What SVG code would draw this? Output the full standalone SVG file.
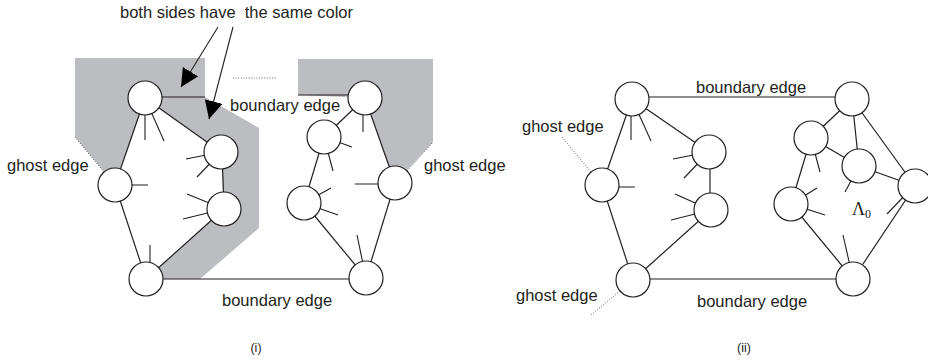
<svg xmlns="http://www.w3.org/2000/svg" width="928" height="360" viewBox="0 0 928 360">
<defs>
<style>
.bg{fill:#ffffff}
.shade{fill:#bcbdc0;stroke:none}
.e{stroke:#231f20;stroke-width:1.2;fill:none}
.s{stroke:#231f20;stroke-width:1.1;fill:none}
.g{stroke:#555;stroke-width:0.9;stroke-dasharray:1 1.6;fill:none}
.n circle{fill:#ffffff;stroke:#231f20;stroke-width:1.2}
.t{font-family:"Liberation Sans",Arial,sans-serif;font-size:16.5px;fill:#231f20}
.cap{font-family:"Liberation Sans",Arial,sans-serif;font-size:12.5px;fill:#231f20;text-anchor:middle}
.lam{font-family:"Liberation Serif","Times New Roman",serif;fill:#231f20}
.arr{stroke:#231f20;stroke-width:1.1;fill:none;marker-end:url(#ah)}
</style>
<marker id="ah" viewBox="0 0 18 18" refX="18" refY="9" markerWidth="18" markerHeight="18" markerUnits="userSpaceOnUse" orient="auto">
<path d="M0,0 L18,9 L0,18 Z" fill="#000"/>
</marker>
</defs>
<rect class="bg" x="0" y="0" width="928" height="360"/>

<g id="shading">
<polygon class="shade" points="75,58 205,58 205,97 259,128 259,228 200,279 146,279 224,209 221,152 145,98 115,185 75,137"/>
<polygon class="shade" points="298,59 433,59 433,142 395,183 365,98 298,95"/>
</g>

<g id="connectors">
<g id="ghost-edges">
<line class="g" x1="104" y1="172" x2="75" y2="137"/>
<line class="g" x1="407" y1="171" x2="433" y2="142"/>
<line class="g" x1="233" y1="78" x2="277" y2="78"/>
<line class="g" x1="591" y1="172" x2="562" y2="137"/>
<line class="g" x1="620" y1="291" x2="591" y2="315"/>
</g>
<g id="edges-i">
<line class="e" x1="145" y1="97" x2="205" y2="97"/>
<line class="e" x1="298" y1="95" x2="365" y2="95"/>
<line class="e" x1="145" y1="98" x2="115" y2="185"/>
<line class="e" x1="115" y1="185" x2="146" y2="279"/>
<line class="e" x1="146" y1="279" x2="224" y2="209"/>
<line class="e" x1="224" y1="209" x2="222" y2="152"/>
<line class="e" x1="145" y1="98" x2="221" y2="152"/>
<line class="e" x1="146" y1="279" x2="366" y2="279"/>
<line class="e" x1="365" y1="98" x2="324" y2="137"/>
<line class="e" x1="324" y1="137" x2="304" y2="203"/>
<line class="e" x1="304" y1="203" x2="366" y2="278"/>
<line class="e" x1="365" y1="98" x2="395" y2="183"/>
<line class="e" x1="395" y1="183" x2="366" y2="278"/>
</g>
<g id="stubs-i">
<line class="s" x1="145" y1="98" x2="145" y2="140"/>
<line class="s" x1="145" y1="98" x2="164" y2="141"/>
<line class="s" x1="115" y1="185" x2="148" y2="185"/>
<line class="s" x1="221" y1="152" x2="186" y2="159"/>
<line class="s" x1="221" y1="152" x2="197" y2="177"/>
<line class="s" x1="224" y1="209" x2="187" y2="194"/>
<line class="s" x1="224" y1="209" x2="183" y2="219"/>
<line class="s" x1="150" y1="279" x2="150" y2="245"/>
<line class="s" x1="363" y1="98" x2="363" y2="132"/>
<line class="s" x1="324" y1="137" x2="352" y2="147"/>
<line class="s" x1="324" y1="137" x2="333" y2="171"/>
<line class="s" x1="304" y1="203" x2="331" y2="188"/>
<line class="s" x1="304" y1="203" x2="338" y2="215"/>
<line class="s" x1="395" y1="184" x2="355" y2="184"/>
<line class="s" x1="366" y1="278" x2="357" y2="235"/>
</g>
<g id="edges-ii">
<line class="e" x1="632" y1="97" x2="852" y2="97"/>
<line class="e" x1="632" y1="99" x2="602" y2="185"/>
<line class="e" x1="632" y1="99" x2="709" y2="152"/>
<line class="e" x1="710" y1="152" x2="710" y2="210"/>
<line class="e" x1="711" y1="210" x2="633" y2="280"/>
<line class="e" x1="602" y1="185" x2="633" y2="280"/>
<line class="e" x1="633" y1="279" x2="853" y2="279"/>
<line class="e" x1="852" y1="99" x2="811" y2="138"/>
<line class="e" x1="852" y1="99" x2="859" y2="166"/>
<line class="e" x1="852" y1="99" x2="915" y2="186"/>
<line class="e" x1="811" y1="138" x2="859" y2="166"/>
<line class="e" x1="811" y1="138" x2="791" y2="204"/>
<line class="e" x1="859" y1="166" x2="915" y2="186"/>
<line class="e" x1="791" y1="204" x2="853" y2="279"/>
<line class="e" x1="853" y1="279" x2="915" y2="186"/>
</g>
<g id="stubs-ii">
<line class="s" x1="631" y1="99" x2="631" y2="140"/>
<line class="s" x1="632" y1="99" x2="651" y2="141"/>
<line class="s" x1="602" y1="187" x2="635" y2="187"/>
<line class="s" x1="709" y1="152" x2="673" y2="159"/>
<line class="s" x1="709" y1="152" x2="684" y2="178"/>
<line class="s" x1="711" y1="210" x2="675" y2="194"/>
<line class="s" x1="711" y1="210" x2="671" y2="220"/>
<line class="s" x1="811" y1="138" x2="820" y2="172"/>
<line class="s" x1="859" y1="166" x2="845" y2="192"/>
<line class="s" x1="791" y1="204" x2="817" y2="188"/>
<line class="s" x1="791" y1="204" x2="825" y2="215"/>
<line class="s" x1="853" y1="279" x2="843" y2="235"/>
<line class="s" x1="909" y1="191" x2="887" y2="214"/>
</g>
<g id="arrows">
<line class="arr" x1="218" y1="27" x2="181" y2="87"/>
<line class="arr" x1="233" y1="27" x2="209" y2="119"/>
</g>
</g>

<g id="nA" class="n"><circle cx="145" cy="98" r="17"/></g>
<g id="nB" class="n"><circle cx="221" cy="152" r="17"/></g>
<g id="nC" class="n"><circle cx="224" cy="209" r="17"/></g>
<g id="nD" class="n"><circle cx="115" cy="185" r="17"/></g>
<g id="nE" class="n"><circle cx="146" cy="279" r="17"/></g>
<g id="nF" class="n"><circle cx="365" cy="98" r="17"/></g>
<g id="nG" class="n"><circle cx="324" cy="137" r="17"/></g>
<g id="nH" class="n"><circle cx="304" cy="203" r="17"/></g>
<g id="nI" class="n"><circle cx="395" cy="183" r="17"/></g>
<g id="nJ" class="n"><circle cx="366" cy="278" r="17"/></g>

<g id="nA2" class="n"><circle cx="632" cy="99" r="17"/></g>
<g id="nB2" class="n"><circle cx="709" cy="152" r="17"/></g>
<g id="nC2" class="n"><circle cx="711" cy="210" r="17"/></g>
<g id="nD2" class="n"><circle cx="602" cy="185" r="17"/></g>
<g id="nE2" class="n"><circle cx="633" cy="280" r="17"/></g>
<g id="nF2" class="n"><circle cx="852" cy="99" r="17"/></g>
<g id="nG2" class="n"><circle cx="811" cy="138" r="17"/></g>
<g id="nK2" class="n"><circle cx="859" cy="166" r="17"/></g>
<g id="nL2" class="n"><circle cx="915" cy="186" r="17"/></g>
<g id="nH2" class="n"><circle cx="791" cy="204" r="17"/></g>
<g id="nJ2" class="n"><circle cx="853" cy="279" r="17"/></g>

<g id="labels">
<text class="t" x="120" y="18" xml:space="preserve">both sides have  the same color</text>
<text class="t" x="230" y="111">boundary edge</text>
<text class="t" x="7" y="171">ghost edge</text>
<text class="t" x="424" y="171">ghost edge</text>
<text class="t" x="222" y="306">boundary edge</text>
<text class="cap" x="256" y="352">(i)</text>
<text class="t" x="696" y="93">boundary edge</text>
<text class="t" x="522" y="132">ghost edge</text>
<text class="t" x="516" y="301">ghost edge</text>
<text class="t" x="697" y="307">boundary edge</text>
<text class="cap" x="744" y="352">(ii)</text>
<text class="lam" x="852" y="215" font-size="18">Λ<tspan font-size="12" dy="3">0</tspan></text>
</g>
</svg>
